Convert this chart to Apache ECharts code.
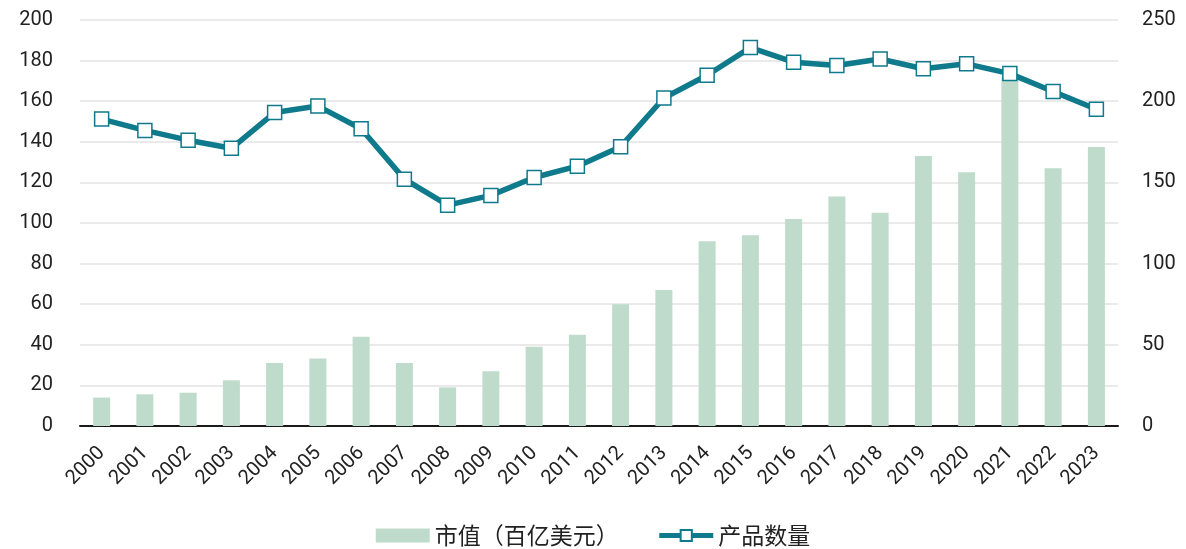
<!DOCTYPE html>
<html>
<head>
<meta charset="utf-8">
<script src="https://cdn.jsdelivr.net/npm/echarts@6/dist/echarts.min.js"></script>
<style>
  html, body { margin: 0; padding: 0; background: #fff; }
  #main { width: 1186px; height: 549px; }
</style>
</head>
<body>
<div id="main"></div>
<script>
var years = ['2000','2001','2002','2003','2004','2005','2006','2007','2008','2009','2010','2011',
             '2012','2013','2014','2015','2016','2017','2018','2019','2020','2021','2022','2023'];
// 市值（百亿美元）, left axis
var marketValue = [14, 15.6, 16.4, 22.5, 31, 33.2, 44, 31, 19, 27, 39, 45,
                   60, 67, 91, 94, 102, 113, 105, 133, 125, 172, 127, 137.5];
// 产品数量, right axis
var productCount = [189, 182, 176, 171, 193, 197, 183, 152, 136, 142, 153, 160,
                    172, 202, 216, 233, 224, 222, 226, 220, 223, 217, 206, 195];

var fontFam = 'Roboto, "Noto Sans CJK SC", sans-serif';

var myChart = echarts.init(document.getElementById('main'));

var option = {
    animation: false,
    grid: {
        left: 80,
        right: 68,
        top: 20,
        bottom: 123
    },
    legend: {
        bottom: -3,
        left: 'center',
        itemGap: 38,
        itemWidth: 54,
        itemHeight: 14,
        textStyle: { fontSize: 23, color: '#222', fontFamily: '"Noto Sans CJK SC", sans-serif' },
        data: [
            { name: '市值（百亿美元）', icon: 'rect' },
            { name: '产品数量', lineStyle: { width: 5 } }
        ]
    },
    xAxis: [
        {
            type: 'category',
            data: years,
            axisTick: { show: false },
            axisLine: { lineStyle: { color: '#1a1a1a', width: 2 } },
            axisLabel: {
                interval: 0,
                rotate: 45,
                margin: 24,
                fontSize: 20,
                color: '#222',
                fontFamily: fontFam
            }
        }
    ],
    yAxis: [
        {
            type: 'value',
            min: 0,
            max: 200,
            interval: 20,
            axisLine: { show: false },
            axisTick: { show: false },
            splitLine: { lineStyle: { color: '#e3e3e3', width: 1.5 } },
            axisLabel: { fontSize: 20, color: '#222', margin: 27, fontFamily: fontFam }
        },
        {
            type: 'value',
            min: 0,
            max: 250,
            interval: 50,
            axisLine: { show: false },
            axisTick: { show: false },
            splitLine: { show: false },
            axisLabel: { fontSize: 20, color: '#222', margin: 24, fontFamily: fontFam }
        }
    ],
    series: [
        {
            name: '市值（百亿美元）',
            type: 'bar',
            yAxisIndex: 0,
            barWidth: 17,
            color: '#bfdbcb',
            data: marketValue
        },
        {
            name: '产品数量',
            type: 'line',
            yAxisIndex: 1,
            color: '#0e7a8b',
            lineStyle: { width: 5.5, color: '#0e7a8b' },
            symbol: 'rect',
            symbolSize: 14,
            itemStyle: { color: '#ffffff', borderColor: '#0e7a8b', borderWidth: 1.5 },
            data: productCount
        }
    ]
};

if (option && typeof option === "object") {
    myChart.setOption(option, true);
}
</script>
</body>
</html>
